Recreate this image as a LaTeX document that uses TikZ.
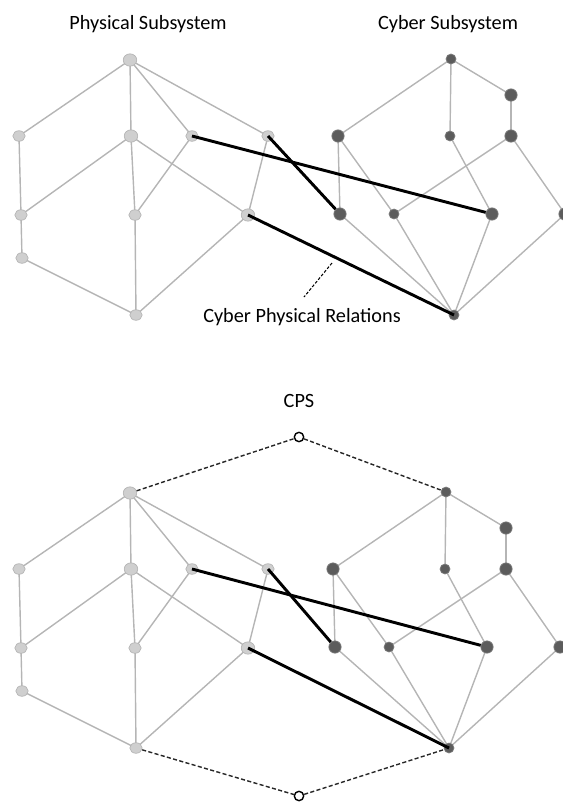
\documentclass[tikz,border=0pt]{standalone}
\usepackage{fontspec}
\setmainfont{Carlito}
\usepackage{tikz}
\usetikzlibrary{shapes.geometric}
\usetikzlibrary{backgrounds}

\definecolor{physfill}{HTML}{CFCFCF}
\definecolor{physline}{HTML}{B5B5B5}
\definecolor{cybfill}{HTML}{5C5C5C}
\definecolor{cybline}{HTML}{7A7A7A}
\definecolor{edgecol}{HTML}{B5B5B5}

\begin{document}
\begin{tikzpicture}[x=0.03cm, y=-0.03cm,
  phys/.style={ellipse, draw=physline, fill=physfill, line width=0.6pt,
    minimum width=10.5pt, minimum height=9pt, inner sep=0pt},
  pbig/.style={phys, minimum width=11.5pt, minimum height=10.5pt},
  cyb/.style={circle, draw=cybline, fill=cybfill, line width=0.6pt,
    minimum size=8.5pt, inner sep=0pt},
  cbig/.style={cyb, minimum size=10.5pt},
  edge/.style={edgecol, line width=1.2pt},
  rel/.style={black, line width=2.5pt},
  bound/.style={black!85, line width=1.2pt, dash pattern=on 3.5pt off 2pt},
  opn/.style={circle, draw=black, fill=white, line width=1.2pt,
    minimum size=8pt, inner sep=0pt},
  lbl/.style={font=\fontsize{17.3}{20}\selectfont}]

\useasboundingbox (0,0) rectangle (563,802);

% titles
\node[lbl] (phystitle) at (148,24) {Physical Subsystem};
\node[lbl] (cybtitle) at (448,24) {Cyber Subsystem};
\node[lbl] (rellabel) at (302,317) {Cyber Physical Relations};
\node[lbl] (cpstitle) at (299,401) {CPS};

% two copies: t = subsystems, b = CPS
\foreach \s/\dy/\dc in {t/0/0, b/433/-5} {
  \foreach \n/\x/\y/\k in {p0/130/60/pbig, p1/19/136/phys, p2/131/136/pbig,
      p3/192/136/phys, p4/268/136/phys, p5/21/215/phys, p6/135/215/phys,
      p7/248/215/pbig, p8/22/258/phys, p9/136/315/phys}
    \node[\k] (\n\s) at (\x,\y+\dy) {};
  \foreach \n/\x/\y/\k in {c0/451/59/cyb, c1/511/95/cbig, c2/338/136/cbig,
      c3/450/136/cyb, c4/511/136/cbig, c5/340/214/cbig, c6/394/214/cyb,
      c7/492/214/cbig, c8/565/214/cbig, c9/454/315/cyb}
    \node[\k] (\n\s) at (\x+\dc,\y+\dy) {};
}

\node[opn] (topo) at (299,437) {};
\node[opn] (boto) at (299,796) {};

\begin{scope}[on background layer]
\foreach \s in {t,b} {
  \foreach \i/\j in {p0/p1, p0/p2, p0/p3, p0/p4, p1/p5, p2/p5, p2/p6, p2/p7,
      p3/p6, p4/p7, p5/p8, p8/p9, p6/p9, p7/p9,
      c0/c1, c0/c2, c0/c3, c1/c4, c2/c5, c2/c6, c3/c7, c4/c6, c4/c8,
      c5/c9, c6/c9, c7/c9, c8/c9}
    \draw[edge] (\i\s.center) -- (\j\s.center);
}
\end{scope}

% cyber physical relations
\foreach \s in {t,b} {
  \draw[rel] (p3\s.center) -- (c7\s);
  \draw[rel] (p4\s.center) -- (c5\s);
  \draw[rel] (p7\s.center) -- (c9\s.center);
}

\coordinate (relpt) at (332,263);
\coordinate (relend) at (304,297);
\draw[black, line width=0.9pt, dash pattern=on 2.5pt off 1.5pt] (relpt) -- (relend);

% CPS bounds
\draw[bound] (p0b) -- (topo) -- (c0b);
\draw[bound] (p9b) -- (boto) -- (c9b);

\end{tikzpicture}
\end{document}
